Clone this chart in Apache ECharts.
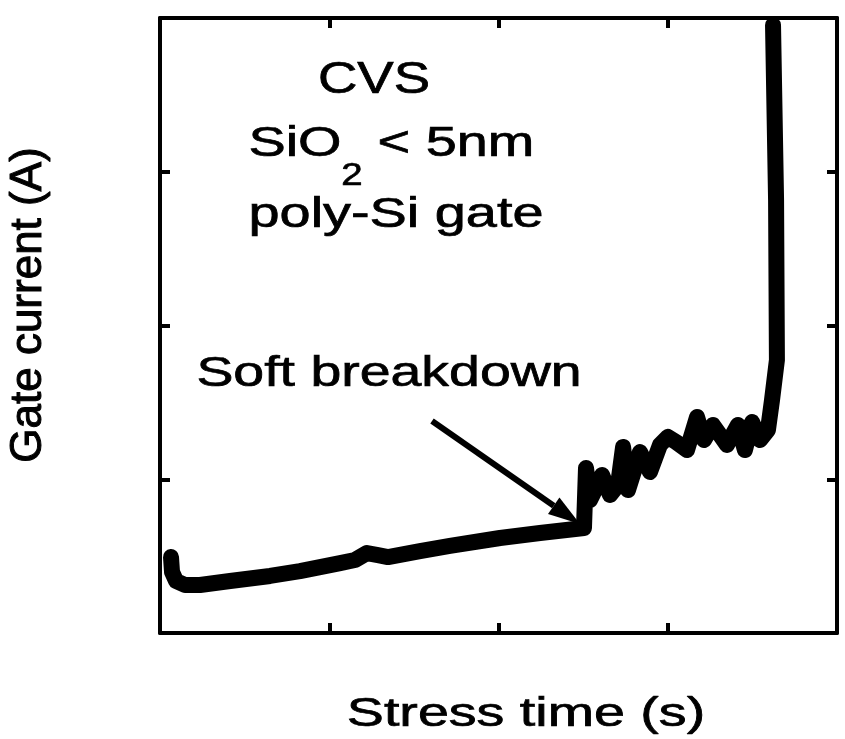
<!DOCTYPE html>
<html>
<head>
<meta charset="utf-8">
<script src="https://cdn.jsdelivr.net/npm/echarts@6/dist/echarts.min.js"></script>
<style>
html,body{margin:0;padding:0;background:#fff;}
#chart{width:845px;height:739px;}
</style>
</head>
<body>
<div id="chart"></div>
<script>
// Stress time (arbitrary units, axis spans 0..4, ticks every 1)
const stressTime = [0.065,0.071,0.095,0.148,0.236,0.414,0.650,0.827,1.064,1.152,1.223,1.288,1.347,1.536,1.713,2.009,2.245,2.505,2.517,2.541,2.570,2.612,2.659,2.706,2.736,2.765,2.836,2.895,2.954,3.001,3.049,3.114,3.173,3.214,3.267,3.350,3.415,3.456,3.498,3.545,3.592,3.616,3.645,3.640,3.622];
// Gate current (arbitrary units, axis spans 0..4, ticks every 1)
const gateCurrent = [0.494,0.397,0.338,0.312,0.312,0.338,0.371,0.403,0.455,0.475,0.520,0.507,0.494,0.533,0.566,0.618,0.650,0.683,1.073,0.865,0.930,1.028,0.898,0.963,1.210,0.930,1.177,1.047,1.223,1.275,1.242,1.190,1.405,1.255,1.353,1.223,1.353,1.190,1.372,1.255,1.320,1.515,1.776,2.816,3.954];
const xRange = [0, 4];
const yRange = [0, 4];
const xTitle = 'Stress time (s)';
const yTitle = 'Gate current (A)';
const annotationLines = ['CVS', 'poly-Si gate'];
const annotationSoft = 'Soft breakdown';

const data = stressTime.map((t, i) => [t, gateCurrent[i]]);
const FONT = '"Liberation Sans", Arial, Helvetica, sans-serif';

function axisCommon(pos) {
  return {
    position: pos,
    axisLine: {show: true, onZero: false, lineStyle: {color: '#000', width: 4}},
    axisTick: {show: true, inside: true, length: 10, lineStyle: {color: '#000', width: 4}},
    axisLabel: {show: false},
    splitLine: {show: false}
  };
}

const chart = echarts.init(document.getElementById('chart'), null, {renderer: 'canvas'});

function txt(text, x, y, size, sx, extra, sw) {
  return Object.assign({
    type: 'text', x: x, y: y, scaleX: sx, scaleY: 1, silent: true,
    style: {text: text, fontSize: size, fontFamily: FONT, fill: '#000', stroke: '#000', lineWidth: sw == null ? 0.7 : sw,
            align: 'center', verticalAlign: 'middle'}
  }, extra || {});
}

// arrow geometry
const tail = [432, 421], tip = [580, 524];
const dx = tip[0]-tail[0], dy = tip[1]-tail[1], L = Math.hypot(dx, dy);
const ux = dx/L, uy = dy/L, hl = 32, hw = 10;
const bx = tip[0]-hl*ux, by = tip[1]-hl*uy;

const option = {
  animation: false,
  backgroundColor: '#fff',
  grid: {left: 160, top: 18, width: 677, height: 615, containLabel: false},
  xAxis: [
    Object.assign({type: 'value', min: xRange[0], max: xRange[1], interval: 1}, axisCommon('bottom')),
    Object.assign({type: 'value', min: xRange[0], max: xRange[1], interval: 1}, axisCommon('top'))
  ],
  yAxis: [
    Object.assign({type: 'value', min: yRange[0], max: yRange[1], interval: 1}, axisCommon('left')),
    Object.assign({type: 'value', min: yRange[0], max: yRange[1], interval: 1}, axisCommon('right'))
  ],
  series: [{
    type: 'line',
    data: data,
    showSymbol: false,
    symbol: 'none',
    clip: false,
    smooth: false,
    lineStyle: {color: '#000', width: 16, cap: 'round', join: 'round'}
  }],
  graphic: [
    txt(xTitle, 526, 715, 40, 1.39),
    txt(yTitle, 29, 305, 44, 1.0, {rotation: Math.PI/2}, 1.0),
    txt(annotationLines[0], 374, 81, 44, 1.24),
    txt('SiO', 295, 144, 42, 1.33),
    txt('2', 352, 176, 32, 1.2),
    txt('< 5nm', 456, 144, 42, 1.33),
    txt(annotationLines[1], 396, 215, 42, 1.33),
    txt(annotationSoft, 389, 374, 42, 1.32),
    {type: 'line', silent: true, shape: {x1: tail[0], y1: tail[1], x2: bx, y2: by}, style: {stroke: '#000', lineWidth: 6}},
    {type: 'polygon', silent: true, shape: {points: [[tip[0], tip[1]], [bx - hw*uy, by + hw*ux], [bx + hw*uy, by - hw*ux]]}, style: {fill: '#000'}}
  ]
};
chart.setOption(option);
</script>
</body>
</html>
